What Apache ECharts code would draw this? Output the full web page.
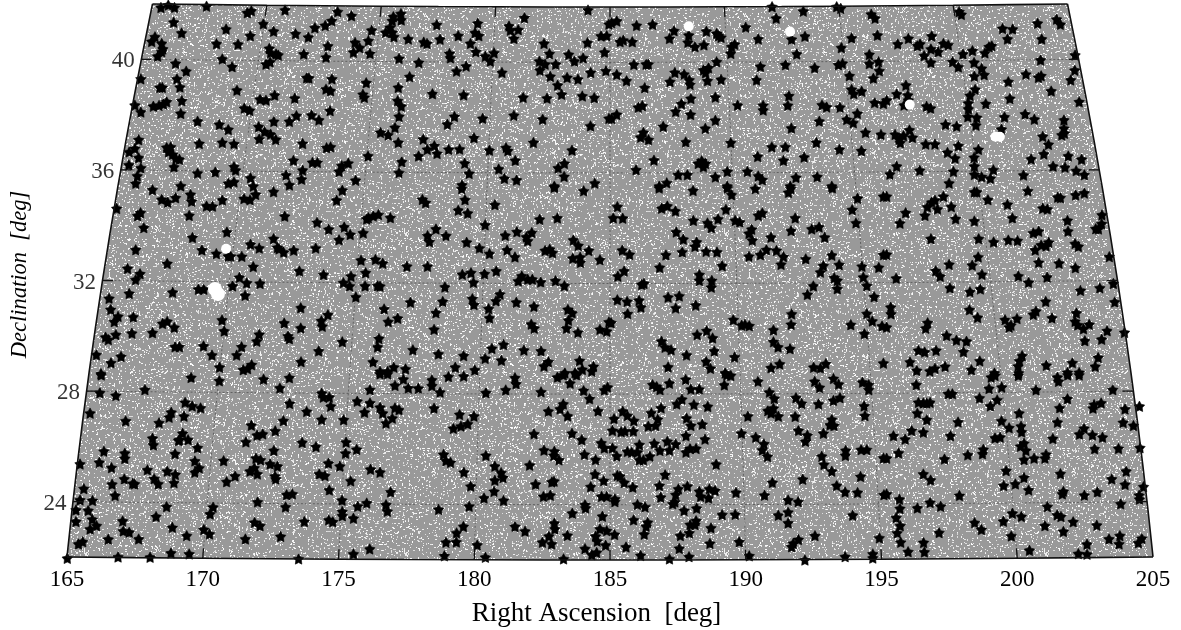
<!DOCTYPE html>
<html><head><meta charset="utf-8">
<style>html,body{margin:0;padding:0;background:#fff}#c{width:1181px;height:630px}</style>
<script src="https://cdn.jsdelivr.net/npm/echarts@6/dist/echarts.min.js"></script>
</head><body><div id="c"></div>
<script>
// Axis tick values
const raTicks = [165,170,175,180,185,190,195,200,205];
const decTicks = [24,28,32,36,40];
const raEdges = [165,205];
const decEdges = [22,42];
// White holes in the source catalogue [x on RA axis, y on Dec axis]
const smallHoles = [[187.90,41.30],[191.63,41.11],[196.04,38.47],[199.2,37.31],[199.36,37.31],[170.86,33.26]];
const largeHoles = [[170.45,31.80],[170.56,31.62]];
// Stars, by panel, [x on RA axis, y on Dec axis]
const starsA = [[168.46,41.98],[168.73,42.07],[168.96,41.98],[170.14,42.03],[171.64,41.79],[171.79,41.86],[173.03,41.89],[168.93,41.45],[172.23,41.39],[170.86,41.20],[169.22,41.06],[168.24,40.92],[168.12,40.75],[168.49,40.68],[168.53,40.48],[168.49,40.38],[171.75,40.96],[172.61,41.12],[173.42,41.03],[174.13,41.25],[174.51,41.33],[174.75,41.50],[173.89,40.91],[170.51,40.67],[171.30,40.65],[174.61,40.59],[172.45,40.50],[172.50,40.34],[172.70,40.30],[172.78,40.26],[173.72,40.30],[174.54,40.18],[168.34,40.22],[170.72,40.12],[169.00,39.96],[171.08,39.84],[172.48,40.01],[172.33,39.93],[169.39,39.68],[167.72,39.40],[169.05,39.40],[173.83,39.44],[173.91,39.43],[174.76,39.40],[168.42,39.09],[168.51,39.09],[169.16,39.10],[171.26,38.99],[174.54,39.03],[174.71,38.97],[172.65,38.81],[173.39,38.70],[172.11,38.66],[172.33,38.63],[169.23,38.61],[168.67,38.57],[168.55,38.49],[168.39,38.44],[168.18,38.41],[167.50,38.45],[167.72,38.20],[169.19,38.15],[171.53,38.34],[171.73,38.26],[174.69,38.25],[173.45,38.07],[174.01,38.09],[174.28,37.91],[173.19,37.86],[172.62,37.86],[169.81,37.87],[170.61,37.75],[170.94,37.57],[172.06,37.67],[172.28,37.49],[172.50,37.40],[172.69,37.21],[172.08,37.23],[167.64,37.20],[169.87,37.06],[170.72,37.10],[171.15,37.05],[173.68,37.06],[174.56,36.91],[174.71,36.94],[167.50,36.88],[167.29,36.76],[168.67,36.92],[168.82,36.94],[168.74,36.76],[168.89,36.67],[169.01,36.52],[169.14,36.49],[167.64,36.55],[167.28,36.29],[167.72,36.18],[173.34,36.45],[174.04,36.38],[174.22,36.38],[173.68,36.10],[168.94,36.21],[171.15,36.22],[171.21,36.10],[169.81,35.99],[170.46,36.03],[173.07,35.92],[167.59,35.89],[171.76,35.82],[173.64,35.77],[167.53,35.62],[170.94,35.62],[171.15,35.67],[169.19,35.53],[173.19,35.56],[171.86,35.52]];
const starsB = [[174.97,41.83],[175.48,41.68],[177.30,41.76],[177.02,41.65],[176.98,41.50],[177.31,41.53],[176.22,41.16],[176.90,41.26],[176.74,41.08],[176.98,41.08],[177.04,40.92],[175.61,40.72],[176.10,40.78],[175.78,40.53],[175.55,40.36],[176.16,40.32],[177.57,40.84],[178.14,40.73],[178.26,40.68],[178.74,40.83],[179.41,40.96],[178.62,41.36],[180.13,41.41],[180.03,41.07],[180.17,40.96],[179.86,40.68],[179.09,40.32],[179.12,40.16],[180.06,40.38],[180.41,40.22],[180.73,40.34],[180.59,40.04],[177.23,40.14],[177.96,39.99],[179.70,39.86],[179.35,39.68],[177.62,39.48],[176.02,39.26],[177.20,39.09],[175.90,38.84],[175.95,38.73],[177.18,38.61],[177.31,38.41],[178.46,38.86],[179.61,38.82],[177.23,38.04],[179.27,38.04],[179.01,37.76],[180.31,37.97],[177.08,37.64],[176.55,37.46],[176.83,37.37],[177.20,37.10],[178.12,37.22],[179.99,37.27],[178.53,36.98],[178.27,36.85],[178.63,36.70],[179.06,36.85],[179.46,36.86],[177.95,36.61],[176.09,36.61],[177.33,36.40],[179.65,36.35],[180.56,36.82],[181.17,36.91],[181.24,36.80],[181.51,36.45],[182.18,37.10],[175.36,36.35],[175.12,36.26],[175.02,36.05],[177.23,36.01],[179.81,35.98],[180.90,36.14],[181.11,35.80],[181.56,35.74],[175.63,35.73],[179.55,35.56],[181.85,41.61],[181.28,41.31],[181.33,41.16],[181.62,41.18],[181.46,40.86],[182.57,40.68],[184.17,40.71],[184.19,41.89],[184.96,41.38],[184.67,40.95],[184.88,40.96],[184.80,40.36],[183.48,40.28],[182.77,40.31],[183.69,40.04],[184.01,40.16],[182.40,40.04],[182.61,39.93],[183.00,39.93],[182.42,39.71],[181.02,39.63],[184.29,39.63],[184.85,39.69],[182.80,39.49],[183.42,39.45],[183.82,39.39],[183.07,39.17],[183.22,38.84],[181.80,38.73],[182.68,38.70],[183.98,38.78],[184.42,38.72],[181.46,38.08],[182.52,37.94],[184.28,37.70],[183.60,36.82],[183.32,36.34],[183.09,36.18],[183.31,35.87],[184.44,35.63],[182.95,35.52],[184.96,37.97]];
const starsC = [[185.06,41.43],[185.25,41.49],[185.98,41.33],[186.57,41.37],[187.36,41.14],[187.19,40.86],[187.90,40.98],[187.87,40.72],[188.13,40.56],[188.46,40.63],[188.55,41.12],[189.00,40.96],[188.93,41.04],[189.09,40.90],[190.00,41.27],[190.46,40.84],[189.45,40.32],[189.48,40.56],[189.59,40.65],[188.93,40.02],[191.12,41.59],[190.97,42.01],[192.12,41.85],[193.35,42.01],[193.50,41.95],[194.62,41.74],[194.76,41.59],[194.85,40.98],[193.90,40.88],[193.52,40.53],[192.18,40.94],[191.69,40.83],[191.88,40.30],[191.46,39.91],[190.54,39.85],[190.40,39.36],[192.54,39.80],[193.41,39.91],[193.56,39.96],[194.55,40.28],[194.55,39.95],[194.89,40.02],[194.92,39.69],[193.82,39.51],[194.70,39.42],[185.88,39.92],[186.33,39.93],[186.41,39.93],[185.25,39.56],[185.61,39.33],[186.28,39.08],[185.37,40.74],[185.49,40.80],[185.82,40.74],[187.39,39.63],[187.73,39.57],[187.21,39.30],[187.92,39.36],[187.95,39.20],[188.44,39.72],[188.63,39.80],[188.52,39.62],[188.59,39.33],[189.09,39.38],[188.88,38.74],[187.98,38.69],[187.63,38.50],[187.42,38.22],[187.97,38.11],[186.04,38.37],[186.19,38.43],[185.25,38.11],[185.06,37.97],[189.70,38.45],[190.64,38.44],[190.64,38.27],[191.59,38.79],[191.55,38.44],[192.81,38.46],[192.98,38.38],[193.47,38.37],[193.90,39.02],[193.98,38.86],[194.27,38.95],[194.75,38.54],[195.07,38.51],[194.11,38.15],[193.72,37.93],[193.96,37.81],[192.71,37.87],[188.88,37.90],[188.51,37.61],[186.96,37.68],[186.23,37.46],[186.13,37.29],[186.42,37.20],[187.79,37.12],[189.45,37.09],[191.68,37.62],[190.96,36.94],[191.46,36.94],[192.60,37.10],[193.45,36.85],[194.26,36.80],[194.41,37.46],[194.98,37.39],[190.44,36.59],[191.39,36.45],[192.15,36.57],[186.62,36.46],[188.38,36.44],[188.52,36.34],[188.44,36.22],[188.25,36.34],[185.96,36.11],[187.51,35.93],[187.85,35.93],[188.88,35.85],[189.32,36.05],[190.06,36.05],[190.46,35.89],[190.61,35.75],[191.85,35.83],[192.63,35.86],[186.81,35.52],[187.09,35.64],[189.32,35.52],[193.17,35.52],[191.64,35.52]];
const starsD = [[197.86,41.83],[197.94,41.73],[199.46,41.22],[199.83,41.20],[200.75,41.41],[201.45,41.56],[201.59,41.37],[199.64,40.84],[200.90,40.84],[195.60,40.66],[195.99,40.86],[196.85,40.95],[196.32,40.60],[196.42,40.66],[196.82,40.48],[197.09,40.38],[196.57,40.24],[197.28,40.68],[197.46,40.63],[196.82,39.99],[198.00,40.30],[198.35,40.42],[198.81,40.34],[198.96,40.56],[199.06,40.60],[202.13,40.26],[200.86,40.08],[197.62,40.02],[197.83,39.83],[198.41,39.99],[198.69,39.78],[198.78,39.55],[198.42,39.50],[200.32,39.57],[199.67,39.30],[200.78,39.45],[200.88,39.51],[202.12,39.71],[201.97,39.36],[201.25,38.96],[195.90,39.17],[195.56,38.85],[195.97,38.81],[195.99,38.63],[195.83,38.45],[195.19,38.63],[198.45,39.02],[198.26,38.80],[199.73,38.69],[198.84,38.50],[198.20,38.52],[198.20,38.31],[202.28,38.57],[196.66,38.41],[196.81,38.34],[198.18,38.03],[198.51,38.00],[198.48,37.72],[199.53,38.02],[200.29,38.13],[200.63,37.94],[201.72,37.91],[201.72,37.61],[201.64,37.37],[201.74,37.43],[197.36,37.75],[197.77,37.69],[199.42,37.58],[195.50,37.39],[195.81,37.34],[196.03,37.55],[196.14,37.28],[195.65,37.21],[195.69,37.09],[196.63,37.04],[196.97,37.04],[197.83,36.98],[200.94,37.32],[201.15,37.03],[198.57,36.85],[197.43,36.74],[197.71,36.53],[198.41,36.56],[200.98,36.68],[200.51,36.50],[201.88,36.61],[202.37,36.49],[195.56,36.24],[198.42,36.24],[201.32,36.24],[201.76,36.20],[202.17,36.08],[202.47,35.93],[195.31,35.95],[196.41,36.09],[197.65,36.05],[199.12,36.11],[198.42,35.94],[198.69,35.86],[199.01,35.80],[200.23,35.92],[197.49,35.63]];
const starsE = [[168.15,35.39],[168.49,35.04],[168.71,34.94],[169.00,35.10],[169.55,35.22],[169.59,34.97],[170.72,35.02],[170.14,34.80],[170.36,34.79],[171.52,35.07],[171.74,35.03],[171.95,35.22],[172.61,35.32],[166.83,34.71],[167.71,34.56],[167.60,34.45],[169.50,34.46],[173.02,34.43],[174.21,34.21],[174.64,33.96],[167.83,34.02],[170.89,33.86],[169.62,33.66],[172.61,33.62],[171.76,33.42],[172.08,33.28],[172.75,33.30],[172.81,33.25],[172.98,33.13],[173.35,33.20],[174.16,33.28],[167.53,33.22],[169.97,33.21],[170.50,33.08],[170.94,32.99],[171.03,32.99],[171.44,32.98],[168.69,32.72],[167.23,32.54],[171.86,32.61],[173.56,32.45],[174.45,32.32],[167.69,32.35],[167.53,32.14],[171.35,32.22],[171.10,31.91],[171.62,32.02],[172.11,32.00],[167.29,31.64],[168.89,31.68],[169.84,31.79],[170.04,31.79],[171.56,31.57],[166.55,31.46],[166.61,31.06],[166.88,30.81],[166.74,30.62],[167.44,30.79],[173.61,31.12],[174.61,30.87],[170.71,30.68],[173.00,30.57],[174.37,30.65],[174.40,30.45],[168.69,30.63],[168.52,30.55],[168.95,30.41],[167.39,30.20],[170.79,30.28],[173.61,30.39],[168.15,30.22],[166.80,30.15],[166.42,30.06],[166.52,29.97],[172.08,30.16],[173.14,30.10],[173.19,30.00],[171.99,29.91],[168.98,29.71],[169.14,29.71],[170.03,29.74],[171.43,29.71],[166.08,29.42],[166.99,29.36],[170.34,29.41],[171.25,29.41],[174.27,29.56],[166.62,29.13],[173.62,29.17],[170.62,28.97],[171.49,28.88],[171.65,28.92],[171.80,29.06],[166.25,28.74]];
const starsF = [[175.14,35.37],[174.93,35.01],[178.09,35.04],[178.21,34.92],[179.54,35.43],[179.66,35.03],[180.76,34.85],[182.95,35.47],[184.03,35.35],[179.41,34.65],[179.76,34.54],[176.47,34.49],[176.28,34.44],[176.10,34.38],[176.04,34.33],[176.91,34.38],[182.41,34.32],[183.06,34.37],[180.40,34.12],[175.21,34.04],[175.91,33.83],[175.43,33.77],[175.02,33.58],[178.59,33.97],[178.28,33.73],[178.35,33.51],[178.96,33.73],[179.72,33.49],[181.14,33.74],[181.57,33.87],[182.12,33.84],[181.92,33.68],[181.97,33.54],[183.65,33.57],[183.83,33.37],[180.19,33.28],[180.56,33.08],[181.21,33.21],[181.50,32.96],[182.61,33.19],[182.78,33.24],[182.88,33.11],[184.22,33.19],[183.63,32.91],[183.90,32.95],[183.91,32.76],[184.63,32.86],[175.83,32.84],[176.36,32.87],[176.63,32.73],[177.52,32.62],[178.28,32.62],[179.56,32.33],[179.88,32.39],[180.38,32.35],[180.81,32.45],[176.00,32.39],[175.46,32.26],[175.18,32.03],[175.41,31.91],[175.98,31.91],[176.44,31.92],[176.53,31.90],[179.97,32.04],[181.62,32.09],[181.75,32.27],[181.97,32.15],[182.14,32.15],[182.45,32.05],[182.99,32.10],[183.32,31.92],[178.92,31.87],[175.64,31.51],[180.95,31.61],[180.80,31.37],[179.93,31.45],[179.99,31.23],[178.84,31.35],[177.65,31.32],[181.55,31.32],[182.20,31.17],[176.68,31.08],[180.53,31.09],[183.45,31.06],[183.61,30.93],[178.59,30.94],[177.18,30.74],[176.83,30.62],[180.56,30.75],[183.47,30.67],[182.10,30.53],[182.21,30.38],[178.52,30.34],[183.40,30.38],[183.82,30.23],[184.63,30.34],[184.88,30.27],[184.96,30.61],[176.49,30.01],[176.44,29.70],[175.14,29.89],[181.08,29.79],[180.65,29.65],[177.74,29.60],[178.68,29.45],[179.61,29.39],[181.83,29.59],[182.46,29.56],[180.40,29.29],[181.00,29.22],[176.27,29.16],[182.73,29.17],[182.57,29.01],[183.88,29.21],[179.30,28.97],[177.04,28.97],[177.47,28.91],[176.53,28.82],[176.81,28.82],[180.02,28.87],[183.98,28.89],[184.39,29.00],[184.33,28.83],[183.34,28.76],[183.71,28.76]];
const starsG = [[186.81,35.45],[188.06,35.36],[189.32,35.45],[189.48,35.21],[190.35,35.43],[191.57,35.29],[191.66,35.43],[193.19,35.45],[194.12,35.08],[195.07,35.15],[185.27,34.78],[186.90,34.72],[187.11,34.80],[187.41,34.62],[189.27,34.68],[193.92,34.67],[190.46,34.46],[190.61,34.55],[191.82,34.37],[185.12,34.37],[185.47,34.36],[188.07,34.28],[188.59,34.19],[188.73,34.02],[188.98,34.33],[189.61,34.28],[189.78,34.22],[194.06,34.19],[187.44,33.86],[190.22,33.96],[190.12,33.81],[191.67,33.91],[192.43,33.97],[192.70,34.04],[192.91,33.67],[190.93,33.67],[187.70,33.60],[190.24,33.56],[188.19,33.50],[188.13,33.34],[185.45,33.20],[185.72,33.05],[187.06,33.03],[187.66,33.14],[188.54,33.16],[188.94,33.14],[190.12,32.98],[190.54,33.04],[190.76,33.22],[191.13,33.19],[191.39,32.97],[191.30,32.69],[192.21,32.89],[193.17,33.02],[186.83,32.58],[189.13,32.64],[192.86,32.64],[192.75,32.41],[193.44,32.68],[194.28,32.62],[194.90,32.58],[195.07,33.04],[185.52,32.45],[185.29,32.26],[188.29,32.32],[188.29,32.11],[188.75,32.11],[188.73,31.86],[193.26,32.21],[193.37,32.11],[194.33,32.23],[194.46,31.92],[193.37,31.81],[192.49,31.91],[192.27,31.60],[186.17,31.96],[186.25,32.00],[194.73,31.52],[187.55,31.55],[187.14,31.50],[185.27,31.41],[185.63,31.35],[186.07,31.39],[186.14,31.14],[187.42,31.11],[188.16,31.21],[185.65,30.91],[191.69,30.90],[191.67,30.52],[194.46,30.91],[194.66,30.64],[193.87,30.51],[195.02,30.46],[185.04,30.58],[189.54,30.69],[189.85,30.49],[189.97,30.52],[190.13,30.47],[191.02,30.32],[188.56,30.29],[188.21,30.15],[188.78,30.03],[186.90,29.91],[187.03,29.69],[187.25,29.60],[191.02,29.89],[191.19,29.70],[191.63,29.64],[188.84,29.56],[187.82,29.41],[189.59,29.34],[194.37,30.18],[188.54,29.18],[188.70,28.93],[187.14,28.98],[189.24,28.76],[190.93,28.95],[191.25,29.09],[192.50,28.97],[192.75,28.94],[192.95,29.10],[195.07,29.12]];
const starsH = [[195.19,35.15],[197.28,35.15],[196.97,35.01],[196.85,34.94],[196.69,34.77],[197.06,34.69],[196.60,34.46],[195.89,34.56],[195.68,34.18],[197.57,34.78],[197.73,34.34],[198.42,34.26],[198.42,35.31],[198.51,35.31],[198.92,35.03],[199.64,34.86],[199.82,34.37],[200.39,35.35],[201.49,35.12],[201.59,35.10],[202.15,35.20],[202.47,35.27],[200.94,34.72],[201.11,34.69],[201.85,34.28],[201.87,33.89],[203.12,34.48],[203.11,34.16],[202.89,33.98],[202.99,33.97],[200.59,33.83],[200.79,33.89],[196.82,33.62],[198.58,33.62],[199.13,33.50],[199.67,33.57],[200.01,33.55],[200.66,33.21],[200.88,33.39],[201.06,33.36],[201.16,33.49],[202.13,33.44],[202.25,33.34],[203.39,32.97],[198.56,32.96],[195.19,33.05],[197.49,32.69],[198.34,32.66],[200.79,32.76],[201.54,32.73],[202.14,32.57],[197.00,32.46],[197.16,32.26],[198.70,32.33],[195.54,32.19],[200.04,32.27],[200.42,32.04],[201.10,32.23],[203.54,32.00],[203.04,31.84],[202.33,31.75],[197.52,31.84],[198.26,31.70],[198.64,31.80],[201.05,31.35],[203.59,31.33],[195.34,31.14],[195.35,30.90],[198.24,31.05],[198.54,30.77],[200.69,31.00],[200.59,30.88],[201.28,30.75],[199.99,30.73],[199.55,30.69],[199.77,30.49],[199.70,30.42],[202.18,30.93],[202.13,30.63],[202.23,30.50],[202.65,30.52],[202.44,30.36],[196.70,30.58],[196.63,30.38],[203.95,30.23],[203.31,30.29],[203.11,29.98],[202.49,29.93],[197.40,30.12],[197.76,29.95],[198.13,29.91],[196.36,29.58],[196.59,29.52],[197.01,29.58],[198.02,29.53],[196.05,29.16],[198.62,29.20],[200.18,29.39],[200.08,29.20],[200.03,29.01],[201.07,29.04],[202.03,29.13],[202.98,29.32],[202.87,29.00],[196.30,28.85],[196.78,28.83],[196.97,28.93],[197.34,29.00],[198.31,28.88],[199.16,28.76],[200.05,28.76],[201.85,28.78],[202.28,28.78],[195.19,30.42]];
const starsI = [[166.26,28.69],[169.57,28.60],[170.61,28.48],[172.24,28.54],[173.19,28.59],[166.21,28.05],[166.80,27.95],[167.87,28.16],[172.84,28.22],[174.38,28.03],[174.44,27.89],[174.66,27.89],[169.35,27.70],[169.61,27.57],[169.92,27.50],[174.71,27.56],[173.20,27.66],[165.85,27.31],[168.84,27.34],[168.76,27.16],[169.31,27.20],[173.83,27.37],[174.38,27.08],[172.97,27.04],[167.16,27.03],[168.39,26.96],[171.79,26.87],[172.67,26.67],[169.26,26.58],[172.21,26.56],[172.00,26.51],[168.15,26.40],[168.18,26.16],[169.14,26.35],[169.46,26.35],[169.11,26.32],[171.59,26.27],[173.66,26.25],[174.17,26.10],[169.81,26.06],[166.36,25.93],[167.13,25.86],[167.13,25.67],[168.98,25.84],[172.62,25.96],[165.48,25.47],[166.19,25.53],[169.71,25.58],[170.77,25.59],[171.96,25.68],[172.13,25.62],[172.48,25.47],[172.75,25.39],[174.63,25.50],[166.64,25.34],[167.96,25.26],[168.69,25.21],[168.99,25.09],[169.71,25.17],[169.87,25.33],[171.90,25.33],[171.74,25.21],[172.01,25.11],[174.29,25.11],[174.50,25.05],[168.21,24.94],[168.36,24.75],[168.94,24.79],[167.11,24.93],[166.66,24.74],[167.42,24.77],[167.49,24.75],[170.88,24.83],[171.19,25.04],[172.66,25.03],[172.69,24.93],[165.62,24.58],[166.77,24.33],[174.66,24.53],[173.09,24.36],[173.30,24.39],[165.48,24.17],[165.94,24.15],[172.02,24.10],[165.33,23.81],[165.78,23.79],[168.67,23.93],[173.05,23.92],[170.38,23.91],[170.27,23.66],[168.28,23.57],[165.33,23.39],[165.93,23.47],[166.09,23.24],[165.85,23.12],[167.05,23.41],[167.07,23.05],[167.29,23.00],[167.64,22.76],[168.88,23.18],[169.41,22.88],[170.04,23.10],[170.25,22.94],[171.91,23.36],[172.11,23.24],[173.74,23.39],[174.64,23.45],[174.79,23.38],[166.52,22.75],[165.42,22.58],[165.58,22.66],[171.57,22.76],[172.87,22.85],[168.83,22.25],[169.50,22.22],[165.01,22.06],[166.88,22.11],[168.06,22.10],[173.53,22.04]];
const starsJ = [[176.53,28.73],[176.81,28.73],[177.39,28.54],[177.08,28.31],[177.57,28.22],[177.94,28.21],[178.44,28.51],[178.44,28.30],[179.05,28.63],[179.61,28.65],[176.16,28.16],[178.74,28.07],[180.43,28.05],[181.16,28.15],[182.46,28.08],[181.50,28.59],[181.54,28.37],[183.06,28.61],[183.28,28.69],[183.77,28.69],[183.53,28.39],[184.03,28.13],[184.79,28.15],[184.91,28.25],[184.25,27.83],[175.69,27.74],[176.16,27.68],[178.52,27.49],[176.53,27.52],[177.08,27.50],[177.23,27.43],[175.96,27.34],[176.63,27.31],[182.73,27.38],[183.16,27.46],[183.28,27.64],[183.44,27.21],[184.56,27.39],[179.46,27.26],[179.99,27.20],[176.98,27.13],[176.75,26.95],[175.19,27.07],[179.76,26.92],[179.51,26.84],[179.23,26.76],[182.20,26.56],[183.60,26.58],[183.96,26.35],[175.28,26.26],[184.68,26.23],[184.79,26.05],[175.67,26.00],[175.26,25.86],[182.57,25.97],[182.95,25.93],[182.93,25.78],[183.12,25.62],[184.06,25.82],[178.87,25.82],[180.43,25.78],[178.96,25.59],[179.13,25.53],[184.47,25.63],[175.05,25.39],[180.76,25.39],[182.04,25.43],[176.18,25.28],[176.53,25.17],[179.62,25.17],[180.99,25.16],[181.06,24.98],[180.76,24.88],[184.45,25.10],[184.77,24.87],[175.45,24.86],[182.26,24.74],[179.87,24.67],[182.86,24.82],[182.94,24.85],[184.29,24.65],[176.92,24.46],[180.73,24.48],[182.55,24.30],[182.80,24.34],[184.69,24.30],[184.88,24.30],[175.13,24.16],[180.36,24.24],[181.08,24.15],[176.04,24.06],[175.71,23.94],[176.75,24.00],[184.08,24.00],[184.10,23.88],[179.81,23.94],[176.80,23.76],[178.69,23.83],[175.14,23.75],[175.14,23.60],[175.55,23.51],[183.61,23.69],[184.72,23.58],[182.95,23.33],[181.50,23.21],[181.87,23.04],[179.60,23.21],[182.97,23.12],[179.35,22.98],[184.63,23.12],[184.88,23.06],[182.75,22.86],[183.43,22.89],[184.47,22.86],[184.53,22.68],[178.96,22.64],[179.34,22.65],[180.11,22.54],[182.51,22.64],[182.85,22.58],[176.15,22.40],[184.84,22.53],[184.08,22.41],[175.55,22.22],[178.90,22.15],[184.51,22.27],[184.33,22.19],[180.41,22.10],[183.29,22.04]];
const starsK = [[189.30,28.69],[189.45,28.67],[187.79,28.53],[190.45,28.46],[187.19,28.39],[189.21,28.33],[186.57,28.34],[186.72,28.27],[186.84,28.16],[187.98,28.18],[188.29,28.18],[190.87,28.07],[192.54,28.46],[192.72,28.24],[193.23,28.56],[193.42,28.36],[194.30,28.43],[194.53,28.34],[194.53,28.16],[191.05,27.84],[191.85,27.87],[193.47,27.87],[193.23,27.77],[187.65,27.81],[187.46,27.64],[192.06,27.66],[192.68,27.64],[188.09,27.62],[188.60,27.55],[186.88,27.50],[194.36,27.57],[190.81,27.40],[191.02,27.49],[190.93,27.31],[185.47,27.38],[186.52,27.32],[185.64,27.22],[190.08,27.20],[191.20,27.20],[191.82,27.19],[194.39,27.22],[185.15,27.11],[185.88,27.04],[186.76,27.09],[187.82,27.13],[186.41,26.84],[186.68,26.86],[187.98,26.86],[188.40,26.91],[193.10,26.88],[193.25,26.86],[193.17,27.08],[185.09,26.68],[185.41,26.64],[185.55,26.66],[185.86,26.66],[191.94,26.68],[192.27,26.51],[187.80,26.49],[189.84,26.58],[192.86,26.58],[190.37,26.44],[188.50,26.37],[192.20,26.29],[187.11,26.29],[186.08,26.17],[186.63,26.21],[187.42,26.19],[190.67,26.20],[185.09,26.05],[185.64,25.92],[185.80,25.90],[186.84,25.96],[187.19,25.97],[186.01,25.90],[187.95,26.03],[188.17,26.03],[187.80,25.90],[190.61,25.98],[185.25,25.76],[190.80,25.74],[194.25,25.99],[194.46,25.99],[193.68,25.96],[193.67,25.78],[192.80,25.75],[186.47,25.75],[186.08,25.62],[186.23,25.62],[195.07,25.69],[188.91,25.46],[192.88,25.45],[193.17,25.21],[185.27,25.06],[185.37,25.03],[187.03,25.08],[185.52,24.80],[185.84,24.63],[186.82,24.69],[190.98,24.80],[192.10,24.92],[194.23,25.02],[193.35,24.69],[193.66,24.46],[194.12,24.44],[195.09,24.36],[187.85,24.67],[187.52,24.57],[187.42,24.36],[186.87,24.27],[187.39,24.10],[187.31,24.03],[188.29,24.48],[188.34,24.30],[188.66,24.57],[188.87,24.51],[188.63,24.24],[189.64,24.44],[190.69,24.34],[185.18,24.21],[185.18,24.11],[186.01,24.01],[186.29,23.92],[191.56,24.17],[191.93,24.11],[188.19,23.87],[187.73,23.79],[189.13,23.64],[189.61,23.65],[191.56,23.73],[191.20,23.62],[193.94,23.62],[185.87,23.45],[186.39,23.36],[186.33,23.21],[188.17,23.42],[187.95,23.28],[188.13,23.28],[191.56,23.34],[188.72,23.16],[185.17,22.92],[186.26,22.93],[187.92,22.98],[187.59,22.88],[192.55,22.88],[194.92,22.80],[188.68,22.60],[189.76,22.66],[185.59,22.47],[187.55,22.42],[191.94,22.74],[191.75,22.60],[191.69,22.48],[186.13,22.16],[187.91,22.12],[187.19,22.04],[190.13,22.15],[193.66,22.12],[194.68,22.22],[194.68,22.07],[192.18,22.00]];
const starsL = [[199.04,28.61],[199.18,28.67],[199.43,28.25],[198.96,28.20],[200.04,28.67],[201.48,28.61],[201.52,28.46],[201.86,28.69],[202.28,28.69],[196.28,28.34],[200.69,28.15],[203.52,28.16],[197.46,28.01],[197.61,28.01],[198.61,27.86],[199.26,27.79],[199.01,27.57],[201.85,27.83],[196.36,27.70],[196.54,27.68],[196.67,27.68],[196.79,27.70],[203.09,27.68],[202.83,27.62],[202.79,27.49],[201.56,27.50],[203.97,27.46],[196.32,27.31],[200.07,27.31],[204.50,27.56],[196.67,27.07],[197.82,26.99],[199.42,27.03],[201.48,26.98],[203.90,26.97],[204.28,26.86],[199.70,26.78],[200.14,26.84],[200.16,26.63],[202.46,26.76],[202.29,26.55],[202.77,26.52],[203.14,26.44],[196.11,26.68],[196.54,26.62],[195.44,26.49],[195.87,26.37],[197.54,26.49],[199.18,26.41],[199.37,26.44],[201.31,26.39],[200.12,26.11],[200.25,26.22],[200.32,25.96],[204.52,26.06],[202.85,26.02],[203.73,26.03],[195.63,25.87],[198.75,26.00],[198.72,25.84],[198.18,25.80],[201.06,25.82],[201.02,25.68],[195.19,25.68],[197.32,25.65],[200.25,25.63],[200.62,25.68],[199.59,25.23],[201.59,25.12],[204.01,25.21],[196.54,25.11],[196.81,24.89],[200.25,24.98],[203.48,24.93],[199.93,24.75],[199.50,24.69],[203.97,24.73],[204.65,24.65],[200.42,24.53],[201.70,24.48],[201.66,24.39],[202.95,24.46],[202.47,24.34],[195.19,24.39],[197.87,24.33],[204.49,24.34],[204.50,24.20],[195.66,24.20],[195.68,23.86],[196.79,24.08],[197.18,23.94],[196.32,23.88],[203.81,24.03],[201.11,23.93],[199.82,23.69],[200.15,23.57],[201.47,23.63],[201.61,23.57],[195.54,23.53],[195.69,23.24],[198.43,23.35],[199.49,23.40],[202.06,23.38],[201.02,23.24],[202.93,23.26],[198.68,23.10],[197.12,22.99],[201.70,23.03],[195.58,22.98],[199.78,22.87],[195.71,22.64],[196.55,22.63],[203.38,22.76],[203.78,22.88],[204.59,22.78],[204.46,22.62],[203.75,22.58],[202.57,22.57],[195.98,22.30],[196.58,22.29],[200.45,22.35],[202.25,22.23],[202.57,22.21]];
const stars = [].concat(starsA,starsB,starsC,starsD,starsE,starsF,starsG,starsH,starsI,starsJ,starsK,starsL);

// Sky-to-axis mapping: the survey footprint narrows and bows with declination.
function sky(ra, dec) {
  const t = (dec - 22) / 20, u = (ra - 185) / 20;
  const half = 543 - 56.5 * t - 29 * t * t;
  return [185 + (ra - 185) * half / 543, dec + 0.11 * u * u];
}
function meridian(ra, d0, d1) { const p = []; for (let i = 0; i <= 12; i++) p.push(sky(ra, d0 + (d1 - d0) * i / 12)); return p; }
function parallel(dec, r0, r1) { const p = []; for (let i = 0; i <= 16; i++) p.push(sky(r0 + (r1 - r0) * i / 16, dec)); return p; }

// Speckle fill: a decorative texture for the dense background catalogue, not chart data.
function speckleTile() {
  const S = 320, c = document.createElement('canvas'); c.width = c.height = S;
  const g = c.getContext('2d'); g.fillStyle = '#999999'; g.fillRect(0, 0, S, S);
  const h = n => { const s = Math.sin(n * 12.9898) * 43758.5453; return s - Math.floor(s); };
  g.filter = 'blur(0.45px)';
  for (let i = 1; i < 9000; i++) {
    const x = Math.floor(h(i) * S), y = Math.floor(h(i + 7001) * S), k = h(i + 13003);
    g.fillStyle = 'rgba(255,255,255,' + (0.6 + 0.4 * h(i + 21001)).toFixed(2) + ')';
    g.fillRect(x, y, k > 0.7 ? 2 : 1, k < 0.3 ? 2 : 1);
  }
  return c;
}
const tile = speckleTile();
const footprint = [].concat(parallel(decEdges[1], raEdges[0], raEdges[1]), meridian(raEdges[1], decEdges[1], decEdges[0]), parallel(decEdges[0], raEdges[1], raEdges[0]), meridian(raEdges[0], decEdges[0], decEdges[1]));

const STAR = 'path://M50 0 L65.9 28.2 L97.6 34.5 L75.7 58.3 L79.4 90.5 L50 77 L20.6 90.5 L24.3 58.3 L2.4 34.5 L34.1 28.2 Z';
function path(data, color, width, type, z) {
  return {type:'line', data, showSymbol:false, symbol:'none', silent:true, clip:false, animation:false, z,
    lineStyle:{color, width, type}};
}
const series = [
  {type:'custom', coordinateSystem:'cartesian2d', clip:false, silent:true, animation:false, z:1, data:[[185,32]],
   renderItem:(p, api) => ({type:'polygon', shape:{points:footprint.map(q => api.coord(q))}, style:{fill:{image:tile, repeat:'repeat'}}})}
];
const DOT = [2,2];
raTicks.slice(1,-1).forEach(r => series.push(path(meridian(r,22,42), 'rgba(50,50,50,0.55)', 1, DOT, 2)));
decTicks.forEach(d => series.push(path(parallel(d,165,205), 'rgba(50,50,50,0.55)', 1, DOT, 2)));
series.push({type:'scatter', data:stars, symbol:STAR, symbolSize:10.5, clip:false, silent:true, animation:false, z:3, itemStyle:{color:'#000', borderColor:'#000', borderWidth:0.6, opacity:1}});
series.push({type:'scatter', data:smallHoles, symbol:'circle', symbolSize:10, clip:false, silent:true, animation:false, z:4, itemStyle:{color:'#fff', opacity:1}});
series.push({type:'scatter', data:largeHoles, symbol:'circle', symbolSize:14, clip:false, silent:true, animation:false, z:4, itemStyle:{color:'#fff', opacity:1}});
// frame
[parallel(42,165,205), parallel(22,165,205), meridian(165,22,42), meridian(205,22,42)].forEach(p => series.push(path(p,'#111',1.6,'solid',5)));
// ticks
raTicks.slice(1,-1).forEach(r => { series.push(path(meridian(r,22,22.36),'#111',1.3,'solid',5)); series.push(path(meridian(r,41.62,42),'#111',1.3,'solid',5)); });
decTicks.forEach(d => { series.push(path(parallel(d,165,165.42),'#111',1.3,'solid',5)); series.push(path(parallel(d,204.58,205),'#111',1.3,'solid',5)); });
// Dec tick labels follow the slanted left edge
series.push({type:'scatter', data:decTicks.map(d => sky(165,d)), symbolSize:1, clip:false, silent:true, animation:false, z:6,
  itemStyle:{color:'transparent'},
  label:{show:true, position:'left', distance:6, offset:[0,2], color:'#000', fontFamily:'Liberation Serif', fontSize:23, formatter:p => String(Math.round(p.value[1]))}});

const chart = echarts.init(document.getElementById('c'), null, {renderer:'canvas'});
chart.setOption({
  animation:false, backgroundColor:'#fff',
  grid:{left:67, right:28, top:7, bottom:70, outerBoundsMode:'none'},
  xAxis:{type:'value', min:165, max:205, interval:5, axisLine:{show:false}, axisTick:{show:false}, splitLine:{show:false},
    axisLabel:{margin:8, color:'#000', fontFamily:'Liberation Serif', fontSize:23, hideOverlap:false, showMinLabel:true, showMaxLabel:true},
    name:'Right Ascension  [deg]', nameLocation:'middle', nameGap:40,
    nameTextStyle:{color:'#000', fontFamily:'Liberation Serif', fontSize:27, padding:[0,27,0,0]}},
  yAxis:{type:'value', min:22, max:42, interval:4, axisLine:{show:false}, axisTick:{show:false}, splitLine:{show:false}, axisLabel:{show:false},
    name:'Declination  [deg]', nameLocation:'middle', nameGap:35,
    nameTextStyle:{color:'#000', fontFamily:'Liberation Serif', fontStyle:'italic', fontSize:22.5, padding:[0,0,0,18]}},
  series
});
</script></body></html>
